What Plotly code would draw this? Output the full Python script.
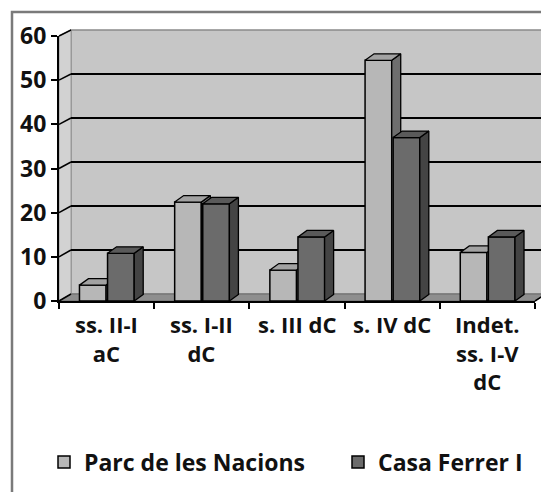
import plotly.graph_objects as go

# ---- data ----
categories = ["ss. II-I<br>aC", "ss. I-II<br>dC", "s. III dC", "s. IV dC", "Indet.<br>ss. I-V<br>dC"]
parc_values = [3.6, 22.4, 7.0, 54.5, 11.0]
casa_values = [10.8, 22.0, 14.5, 37.0, 14.5]
series_names = ["Parc de les Nacions", "Casa Ferrer I"]
y_ticks = [0, 10, 20, 30, 40, 50, 60]

# ---- layout geometry (target pixels in the 549x492 window) ----
W, H = 549, 492
OFF = 8                 # default page body margin
FX0, FX1 = 59, 535      # front plane x extent
FY0, FY60 = 301, 36     # front plane y for 0 and 60
BX0, BX1 = 71, 546      # back wall x extent
BY0, BY60 = 294, 30     # back wall y for 0 and 60
PW = BX1 - FX0
PH = FY0 - BY60

def px(x):
    return (x - FX0) / PW

def py(y):
    return (FY0 - y) / PH

XMIN, XMAX = -0.5, len(categories) - 0.5
YMIN, YMAX = 0, 60
ux = (FX1 - FX0) / (XMAX - XMIN)        # px per x unit
uy = (FY0 - FY60) / (YMAX - YMIN)       # px per y unit
DX = 9 / ux                             # depth offset in x units
DY = 6.5 / uy                           # depth offset in y units

BAR_W = 0.28
offsets = [-0.285, 0.01]
fronts = ["#b7b7b7", "#6b6b6b"]
tops = ["#a2a2a2", "#5a5a5a"]
sides = ["#6e6e6e", "#444444"]
LABEL_FONT = "Open Sans"

fig = go.Figure()

all_values = [parc_values, casa_values]
axes_pairs = [("x", "y"), ("x2", "y2")]
legends = ["legend", "legend2"]
for s, vals in enumerate(all_values):
    xa, ya = axes_pairs[s]
    for i, v in enumerate(vals):
        x0 = i + offsets[s]
        x1 = x0 + BAR_W
        # side face
        fig.add_trace(go.Scatter(
            x=[x1, x1 + DX, x1 + DX, x1, x1], y=[0, DY, v + DY, v, 0],
            fill="toself", fillcolor=sides[s], mode="lines",
            line=dict(color="black", width=1.3), showlegend=False,
            hoverinfo="skip", xaxis=xa, yaxis=ya))
        # top face
        fig.add_trace(go.Scatter(
            x=[x0, x1, x1 + DX, x0 + DX, x0], y=[v, v, v + DY, v + DY, v],
            fill="toself", fillcolor=tops[s], mode="lines",
            line=dict(color="black", width=1.3), showlegend=False,
            hoverinfo="skip", xaxis=xa, yaxis=ya))
    fig.add_trace(go.Bar(
        x=list(range(len(categories))), y=vals, name=series_names[s],
        width=BAR_W, offset=offsets[s], legend=legends[s],
        marker=dict(color=fronts[s], line=dict(color="black", width=1.5)),
        xaxis=xa, yaxis=ya))

shapes = []
# back wall
shapes.append(dict(type="rect", xref="paper", yref="paper", layer="below",
                   x0=px(BX0), x1=px(BX1), y0=py(BY0), y1=py(BY60),
                   fillcolor="#c6c6c6", line=dict(color="#8a8a8a", width=1.5)))
# side wall
shapes.append(dict(type="path", xref="paper", yref="paper", layer="below",
                   path=f"M{px(FX0)},{py(FY0)} L{px(FX0)},{py(FY60)} L{px(BX0)},{py(BY60)} L{px(BX0)},{py(BY0)} Z",
                   fillcolor="#d2d2d2", line=dict(color="#9a9a9a", width=1)))
# floor
shapes.append(dict(type="path", xref="paper", yref="paper", layer="below",
                   path=f"M{px(FX0)},{py(FY0)} L{px(FX1)},{py(FY0)} L{px(BX1)},{py(BY0)} L{px(BX0)},{py(BY0)} Z",
                   fillcolor="#8e8e8e", line=dict(color="#6a6a6a", width=1)))
# gridlines on back wall + slanted connectors on side wall
for t in y_ticks:
    yb = BY0 - (BY0 - BY60) * t / YMAX
    yf = FY0 - (FY0 - FY60) * t / YMAX
    if 0 < t < YMAX:
        shapes.append(dict(type="line", xref="paper", yref="paper", layer="below",
                           x0=px(BX0), x1=px(BX1), y0=py(yb), y1=py(yb),
                           line=dict(color="black", width=2)))
    shapes.append(dict(type="line", xref="paper", yref="paper", layer="below",
                       x0=px(FX0), x1=px(BX0), y0=py(yf), y1=py(yb),
                       line=dict(color="black", width=1.5)))
# right floor edge
shapes.append(dict(type="line", xref="paper", yref="paper", layer="below",
                   x0=px(FX1), x1=px(BX1), y0=py(FY0), y1=py(BY0),
                   line=dict(color="black", width=1.5)))
# outer frame
shapes.append(dict(type="path", xref="paper", yref="paper",
                   path=f"M{px(12)},{py(H)} L{px(12)},{py(12)} L{px(W)},{py(12)}",
                   line=dict(color="#7a7a7a", width=2.5)))

annotations = []
for i, c in enumerate(categories):
    annotations.append(dict(x=i, y=0, xref="x", yref="y", text=c, showarrow=False,
                            yanchor="top", yshift=-6, align="center",
                            font=dict(family=LABEL_FONT, size=22, weight="bold", color="#111")))

legend_common = dict(orientation="h", xanchor="left", y=py(462), yanchor="middle",
                     font=dict(family=LABEL_FONT, size=23, weight="bold", color="#111"),
                     bgcolor="rgba(0,0,0,0)")

fig.update_layout(
    width=W - OFF, height=H - OFF,
    margin=dict(l=FX0 - OFF, r=W - BX1, t=BY60 - OFF, b=H - FY0, autoexpand=False),
    paper_bgcolor="white", plot_bgcolor="rgba(0,0,0,0)",
    barmode="overlay",
    shapes=shapes, annotations=annotations,
    xaxis=dict(domain=[0, px(FX1)], range=[XMIN, XMAX],
               tickvals=[k + 0.5 for k in range(-1, len(categories))],
               ticktext=["" for _ in range(len(categories) + 1)],
               showgrid=False, zeroline=False, showline=True,
               linecolor="black", linewidth=2, ticks="outside",
               ticklen=6, tickwidth=1.5, tickcolor="black"),
    yaxis=dict(domain=[0, py(FY60)], range=[YMIN, YMAX], tickvals=y_ticks,
               showgrid=False, zeroline=False, showline=True,
               linecolor="black", linewidth=2, ticks="outside",
               ticklen=6, tickwidth=1.5, tickcolor="black",
               tickfont=dict(family=LABEL_FONT, size=23, weight="bold", color="#111")),
    xaxis2=dict(overlaying="x", range=[XMIN, XMAX], visible=False),
    yaxis2=dict(overlaying="y", range=[YMIN, YMAX], visible=False),
    showlegend=True,
    legend=dict(x=px(44), **legend_common),
    legend2=dict(x=px(338), **legend_common),
)

fig.write_html("out.html")
